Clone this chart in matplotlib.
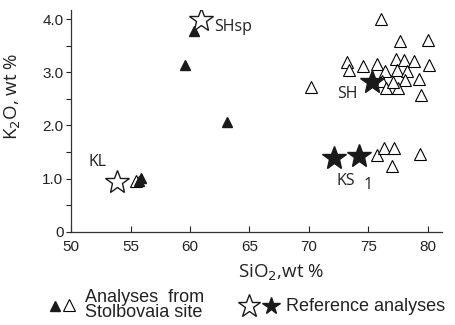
import matplotlib
matplotlib.use("Agg")
import matplotlib.pyplot as plt
from matplotlib.lines import Line2D
from matplotlib.ticker import MultipleLocator

# Stolbovaia site, filled triangles
site_filled_x = [60.35, 59.55, 63.15, 55.9, 55.7]
site_filled_y = [3.77, 3.13, 2.07, 1.02, 0.95]

# Stolbovaia site, open triangles
site_open_x = [76.1, 77.7, 80.0, 73.2, 73.4, 74.6, 75.7, 76.45, 77.35, 78.05,
               78.85, 80.1, 77.45, 78.3, 79.25, 78.1, 76.2, 76.5, 77.5, 77.1,
               79.45, 70.2, 75.7, 76.3, 77.15, 77.0, 79.4, 55.5]
site_open_y = [4.01, 3.59, 3.61, 3.19, 3.05, 3.12, 3.15, 3.03, 3.25, 3.23,
               3.21, 3.13, 3.05, 3.03, 2.88, 2.86, 2.83, 2.70, 2.70, 2.81,
               2.57, 2.72, 1.44, 1.58, 1.58, 1.24, 1.46, 0.95]

# reference analyses
ref_open_x = [60.95, 53.85]
ref_open_y = [3.99, 0.94]
ref_filled_x = [75.35, 72.15, 74.2]
ref_filled_y = [2.82, 1.38, 1.43]

# labels next to reference points
ref_labels = ["SHsp", "KL", "SH", "KS"]
ref_label_x = [62.0, 51.5, 72.4, 72.3]
ref_label_y = [3.85, 1.32, 2.59, 0.95]

label_font = "Open Sans"
tick_font = "Liberation Sans"
ink = "#222222"

fig = plt.figure(figsize=(4.56, 3.25), dpi=100)
ax = fig.add_axes([0.156, 0.287, 0.813, 0.682])

ax.plot(site_open_x, site_open_y, linestyle="none", marker="^", ms=9,
        mfc="white", mec="black", mew=0.8)
ax.plot(site_filled_x, site_filled_y, linestyle="none", marker="^", ms=7,
        mfc="#1a1a1a", mec="#1a1a1a")
ax.plot(ref_open_x, ref_open_y, linestyle="none", marker="*", ms=18,
        mfc="white", mec="#1a1a1a", mew=1.0)
ax.plot(ref_filled_x, ref_filled_y, linestyle="none", marker="*", ms=18,
        mfc="#1a1a1a", mec="#1a1a1a")

for lab, lx, ly in zip(ref_labels, ref_label_x, ref_label_y):
    ax.text(lx, ly, lab, fontsize=11.5, family=label_font, color=ink,
            va="center", ha="left")
ax.text(74.6, 0.88, "1", fontsize=11.5, family=label_font, color=ink,
        va="center", ha="left")

ax.set_xlim(50, 81.2)
ax.set_ylim(0, 4.17)
ax.set_xticks([50, 55, 60, 65, 70, 75, 80])
ax.set_yticks([0, 1, 2, 3, 4])
ax.set_yticklabels(["0", "1.0", "2.0", "3.0", "4.0"])
ax.yaxis.set_minor_locator(MultipleLocator(0.5))
ax.tick_params(axis="y", which="both", direction="out", length=3.5, width=0.8,
               labelsize=11, pad=2, colors=ink)
ax.tick_params(axis="x", which="both", direction="in", length=4, width=0.8,
               labelsize=11, pad=6, colors=ink)
for lbl in ax.get_xticklabels() + ax.get_yticklabels():
    lbl.set_family(tick_font)

ax.spines["top"].set_visible(False)
ax.spines["right"].set_visible(False)
for s in ["left", "bottom"]:
    ax.spines[s].set_linewidth(0.9)
    ax.spines[s].set_color("#333333")

ax.set_xlabel("SiO$_2$,wt %", fontsize=13.5, family=label_font, color=ink)
ax.xaxis.set_label_coords(0.565, -0.14)
ax.set_ylabel("K$_2$O, wt %", fontsize=13.5, family=label_font, color=ink)
ax.yaxis.set_label_coords(-0.13, 0.61)

# legend row beneath the axes
fig.add_artist(Line2D([0.121], [0.060], marker="^", ms=7, mfc="#1a1a1a",
                      mec="#1a1a1a", linestyle="none", transform=fig.transFigure))
fig.add_artist(Line2D([0.151], [0.062], marker="^", ms=9, mfc="white",
                      mec="black", mew=0.8, linestyle="none", transform=fig.transFigure))
fig.text(0.187, 0.062, "Analyses  from\nStolbovaia site", fontsize=13,
         family=tick_font, va="center", ha="left", linespacing=0.85, color=ink)
fig.add_artist(Line2D([0.545], [0.058], marker="*", ms=17, mfc="white",
                      mec="#1a1a1a", mew=1.0, linestyle="none", transform=fig.transFigure))
fig.add_artist(Line2D([0.594], [0.058], marker="*", ms=13, mfc="#1a1a1a",
                      mec="#1a1a1a", linestyle="none", transform=fig.transFigure))
fig.text(0.628, 0.057, "Reference analyses", fontsize=13, family=tick_font,
         va="center", ha="left", color=ink)

fig.savefig("out.png", dpi=100)
